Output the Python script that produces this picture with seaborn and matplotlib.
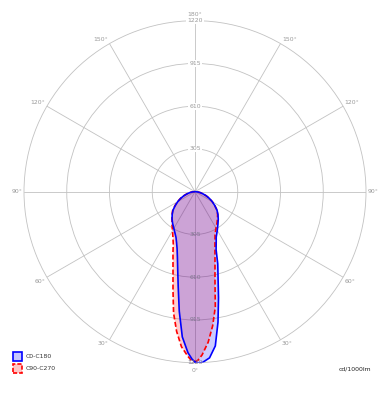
import numpy as np
import pandas as pd
import matplotlib
matplotlib.use("Agg")
import matplotlib.pyplot as plt
import seaborn as sns
from matplotlib.patches import Rectangle

# ---- data (cd/1000lm) ----
gamma = [0, 1, 2.5, 5, 7.5, 10, 12.5, 15, 17.5, 20, 22.5, 25, 30, 35, 40, 45,
         50, 55, 60, 65, 70, 75, 80, 85, 90, 95, 180]
c0 = [1215, 1224, 1220, 1190, 1110, 945, 775, 636, 540, 440, 395, 358, 318, 285,
      258, 232, 205, 172, 142, 113, 85, 58, 38, 20, 6, 0, 0]
c180 = [1215, 1195, 1150, 1040, 860, 690, 570, 485, 425, 385, 354, 334, 302, 278,
        255, 230, 205, 172, 142, 113, 85, 58, 38, 20, 6, 0, 0]
c90 = [1212, 1203, 1165, 1078, 965, 835, 659, 551, 474, 417, 373, 338, 300, 274,
       250, 228, 205, 172, 142, 113, 85, 58, 38, 20, 6, 0, 0]
c270 = [1212, 1210, 1175, 1110, 1005, 880, 725, 606, 522, 459, 405, 371, 321, 286,
        255, 232, 208, 175, 145, 115, 87, 60, 40, 22, 7, 0, 0]
ring_values = [305, 610, 915, 1220]
angle_ticks = [0, 30, 60, 90, 120, 150, 180]
series_names = ["C0-C180", "C90-C270"]
unit_label = "cd/1000lm"


def closed_curve(right, left):
    g = np.array(gamma, dtype=float)
    th = np.concatenate([np.deg2rad(g), -np.deg2rad(g[::-1])])
    r = np.concatenate([np.array(right, float), np.array(left, float)[::-1]])
    return pd.DataFrame({"theta": th, "r": r})


df_a = closed_curve(c0, c180)
df_b = closed_curve(c90, c270)

sns.set_theme(style="white")
plt.rcParams["font.family"] = ["DejaVu Sans"]

W, H = 391, 400
fig = plt.figure(figsize=(W / 100, H / 100), dpi=100)
cx, cy, R = 195, 191.7, 171
ax = fig.add_axes([(cx - R) / W, (H - cy - R) / H, 2 * R / W, 2 * R / H],
                  projection="polar")
ax.set_theta_zero_location("S")
ax.set_theta_direction(1)
ax.set_ylim(0, 1220)
ax.set_rgrids(ring_values[:-1])
ax.set_thetagrids(range(0, 360, 30))
ax.tick_params(labelbottom=False, labelleft=False)
grid_c = "#c2c2c2"
ax.grid(True, color=grid_c, lw=0.6)
ax.spines["polar"].set_color(grid_c)
ax.spines["polar"].set_linewidth(0.6)
ax.set_facecolor("white")

blue = "#0000ff"
red = "#ff0000"

# fills
ax.fill(df_b["theta"], df_b["r"], color=red, alpha=0.2, lw=0, zorder=1)
ax.fill(df_a["theta"], df_a["r"], color=blue, alpha=0.2, lw=0, zorder=1.1)

# lines
sns.lineplot(data=df_b, x="theta", y="r", sort=False, estimator=None, ax=ax,
             color=red, lw=1.2, linestyle=(0, (3, 1.5)), zorder=3)
sns.lineplot(data=df_a, x="theta", y="r", sort=False, estimator=None, ax=ax,
             color=blue, lw=1.2, zorder=4)
ax.set_xlabel("")
ax.set_ylabel("")
ax.set_ylim(0, 1220)

lab_c = "#9a9a9a"
fs = 4.4
# ring labels
for v in ring_values:
    ax.text(np.pi, v, str(v), ha="center", va="center", fontsize=fs, color=lab_c,
            bbox=dict(boxstyle="square,pad=0.15", fc="white", ec="none"), zorder=5)
    ax.text(0, v, str(v), ha="center", va="center", fontsize=fs, color="#807890",
            zorder=5)

# angle labels
for a in angle_ticks:
    for side in ([1, -1] if 0 < a < 180 else [1]):
        th = np.deg2rad(a * side)
        if a == 0:
            ha, va, off = "center", "top", (0, -3.5)
        elif a == 180:
            ha, va, off = "center", "bottom", (0, 3)
        else:
            ha = "left" if side == 1 else "right"
            if a < 90:
                va = "top"
            elif a > 90:
                va = "bottom"
            else:
                va = "center"
            off = (1.0 * side, 0 if a == 90 else (-1 if a < 90 else 1))
        ax.annotate(f"{a}°", xy=(th, 1220), xytext=off, textcoords="offset points",
                    ha=ha, va=va, fontsize=fs, color=lab_c, annotation_clip=False)

# legend
def fx(x):
    return x / W


def fy(y):
    return 1 - y / H


for i, (name, col, ls) in enumerate([(series_names[0], blue, "-"),
                                      (series_names[1], red, (0, (2.5, 1.2)))]):
    y0 = 351.7 + i * 12.7
    fig.add_artist(Rectangle((fx(13.3), fy(y0 + 9)), 9 / W, 9 / H,
                             transform=fig.transFigure, fc=col, alpha=1,
                             ec="none"))
    fig.add_artist(Rectangle((fx(13.3), fy(y0 + 9)), 9 / W, 9 / H,
                             transform=fig.transFigure, fc="white", alpha=0.78,
                             ec="none"))
    fig.add_artist(Rectangle((fx(13.3), fy(y0 + 9)), 9 / W, 9 / H,
                             transform=fig.transFigure, fc="none", ec=col,
                             lw=1.2, linestyle=ls))
    fig.text(fx(26), fy(y0 + 4.5), name, ha="left", va="center", fontsize=fs,
             color="#333333")

fig.text(fx(371), fy(369), unit_label, ha="right", va="center", fontsize=fs,
         color="#222222")

fig.savefig("out.png", dpi=100)
